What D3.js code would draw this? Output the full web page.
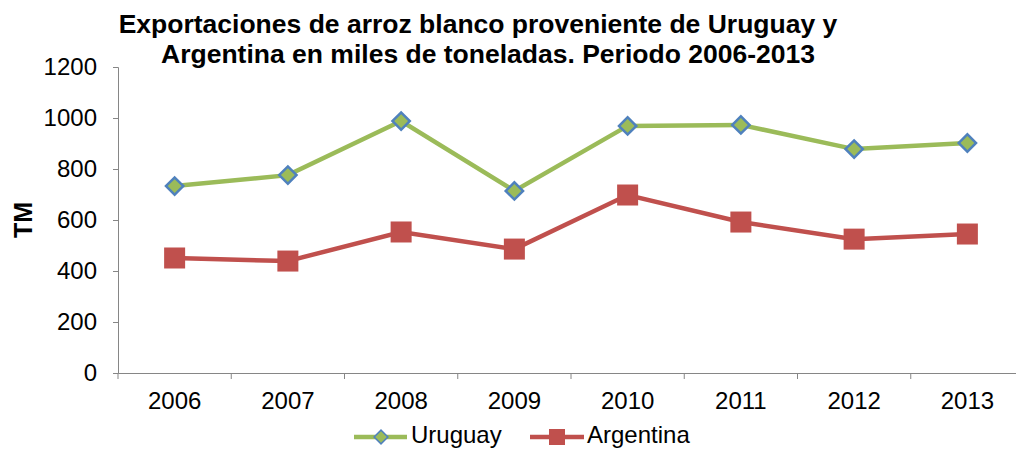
<!DOCTYPE html>
<html lang="en">
<head>
	<meta charset="utf-8">
	<title>Exportaciones de arroz</title>
	<script src="https://d3js.org/d3.v7.min.js"></script>
	<style>
		body { margin: 0; background: #fff; }
		text { font-family: Arial, "Liberation Sans", sans-serif; }
	</style>
</head>
<body>
	<div id="chart"></div>
<script>
	// chart data
	var years = ["2006", "2007", "2008", "2009", "2010", "2011", "2012", "2013"];
	var uruguay = [733, 776, 988, 714, 969, 973, 878, 902];
	var argentina = [451, 439, 553, 486, 698, 592, 525, 545];
	var yTicks = [0, 200, 400, 600, 800, 1000, 1200];

	var w = 1016, h = 450;
	var mLeft = 118, mRight = 1024, mTop = 67, mBottom = 373;

	var svg = d3.select("#chart").append("svg")
		.attr("width", w)
		.attr("height", h);

	var x = d3.scaleBand().domain(years).range([mLeft, mRight]);
	var y = d3.scaleLinear().domain([0, 1200]).range([mBottom, mTop]);

	// title
	var title = svg.append("text")
		.attr("text-anchor", "middle")
		.attr("font-size", "26.5px")
		.attr("font-weight", "bold");
	title.append("tspan").attr("x", 478).attr("y", 33)
		.text("Exportaciones de arroz blanco proveniente de Uruguay y");
	title.append("tspan").attr("x", 488).attr("y", 63)
		.text("Argentina en miles de toneladas. Periodo 2006-2013");

	// y axis
	var yAxis = svg.append("g")
		.attr("transform", "translate(" + mLeft + ",0)")
		.call(d3.axisLeft(y).tickValues(yTicks).tickFormat(d3.format("d")).tickSize(5).tickPadding(16));
	yAxis.selectAll("text").attr("font-size", "24px").attr("fill", "#000")
		.attr("font-family", "Arial, 'Liberation Sans', sans-serif");

	// x axis, ticks on band edges
	var xAxis = svg.append("g")
		.attr("transform", "translate(0," + mBottom + ")")
		.call(d3.axisBottom(x).tickSize(0).tickPadding(19));
	xAxis.selectAll("text").attr("font-size", "24px").attr("fill", "#000")
		.attr("font-family", "Arial, 'Liberation Sans', sans-serif");
	xAxis.selectAll(".edge")
		.data(years)
		.enter()
		.append("line")
		.attr("x1", function(d) { return x(d); })
		.attr("x2", function(d) { return x(d); })
		.attr("y1", 0)
		.attr("y2", 6)
		.attr("stroke", "#868686");
	svg.selectAll(".domain").attr("stroke", "#868686");
	svg.selectAll(".tick line").attr("stroke", "#868686");

	// y label
	svg.append("text")
		.attr("text-anchor", "middle")
		.attr("transform", "translate(32,220) rotate(-90)")
		.attr("font-size", "25px")
		.attr("font-weight", "bold")
		.text("TM");

	var cx = function(d, i) { return x(years[i]) + x.bandwidth() / 2; };
	var line = d3.line()
		.x(cx)
		.y(function(d) { return y(d); });

	// Uruguay
	svg.append("path")
		.datum(uruguay)
		.attr("d", line)
		.attr("fill", "none")
		.attr("stroke", "#9bbb59")
		.attr("stroke-width", 4.5);
	svg.selectAll(".uy")
		.data(uruguay)
		.enter()
		.append("path")
		.attr("d", d3.symbol().type(d3.symbolSquare).size(150))
		.attr("transform", function(d, i) {
			return "translate(" + cx(d, i) + "," + y(d) + ") rotate(45)";
		})
		.attr("fill", "#9bbb59")
		.attr("stroke", "#4f81bd")
		.attr("stroke-width", 2.5);

	// Argentina
	svg.append("path")
		.datum(argentina)
		.attr("d", line)
		.attr("fill", "none")
		.attr("stroke", "#c0504d")
		.attr("stroke-width", 4.5);
	svg.selectAll(".ar")
		.data(argentina)
		.enter()
		.append("rect")
		.attr("x", function(d, i) { return cx(d, i) - 10.5; })
		.attr("y", function(d) { return y(d) - 10.5; })
		.attr("width", 21)
		.attr("height", 21)
		.attr("fill", "#c0504d");

	// legend
	var legend = svg.append("g").attr("transform", "translate(0,437)");
	legend.append("line")
		.attr("x1", 354).attr("x2", 407).attr("y1", 0).attr("y2", 0)
		.attr("stroke", "#9bbb59").attr("stroke-width", 4.5);
	legend.append("path")
		.attr("d", d3.symbol().type(d3.symbolSquare).size(95))
		.attr("transform", "translate(381,0) rotate(45)")
		.attr("fill", "#9bbb59").attr("stroke", "#4f81bd").attr("stroke-width", 1.5);
	legend.append("text").attr("x", 411).attr("y", 6)
		.attr("font-size", "24px").text("Uruguay");

	legend.append("line")
		.attr("x1", 530).attr("x2", 584).attr("y1", 0).attr("y2", 0)
		.attr("stroke", "#c0504d").attr("stroke-width", 4.5);
	legend.append("rect")
		.attr("x", 549).attr("y", -8).attr("width", 16).attr("height", 16)
		.attr("fill", "#c0504d");
	legend.append("text").attr("x", 587).attr("y", 6)
		.attr("font-size", "24px").text("Argentina");
</script>
</body>
</html>
